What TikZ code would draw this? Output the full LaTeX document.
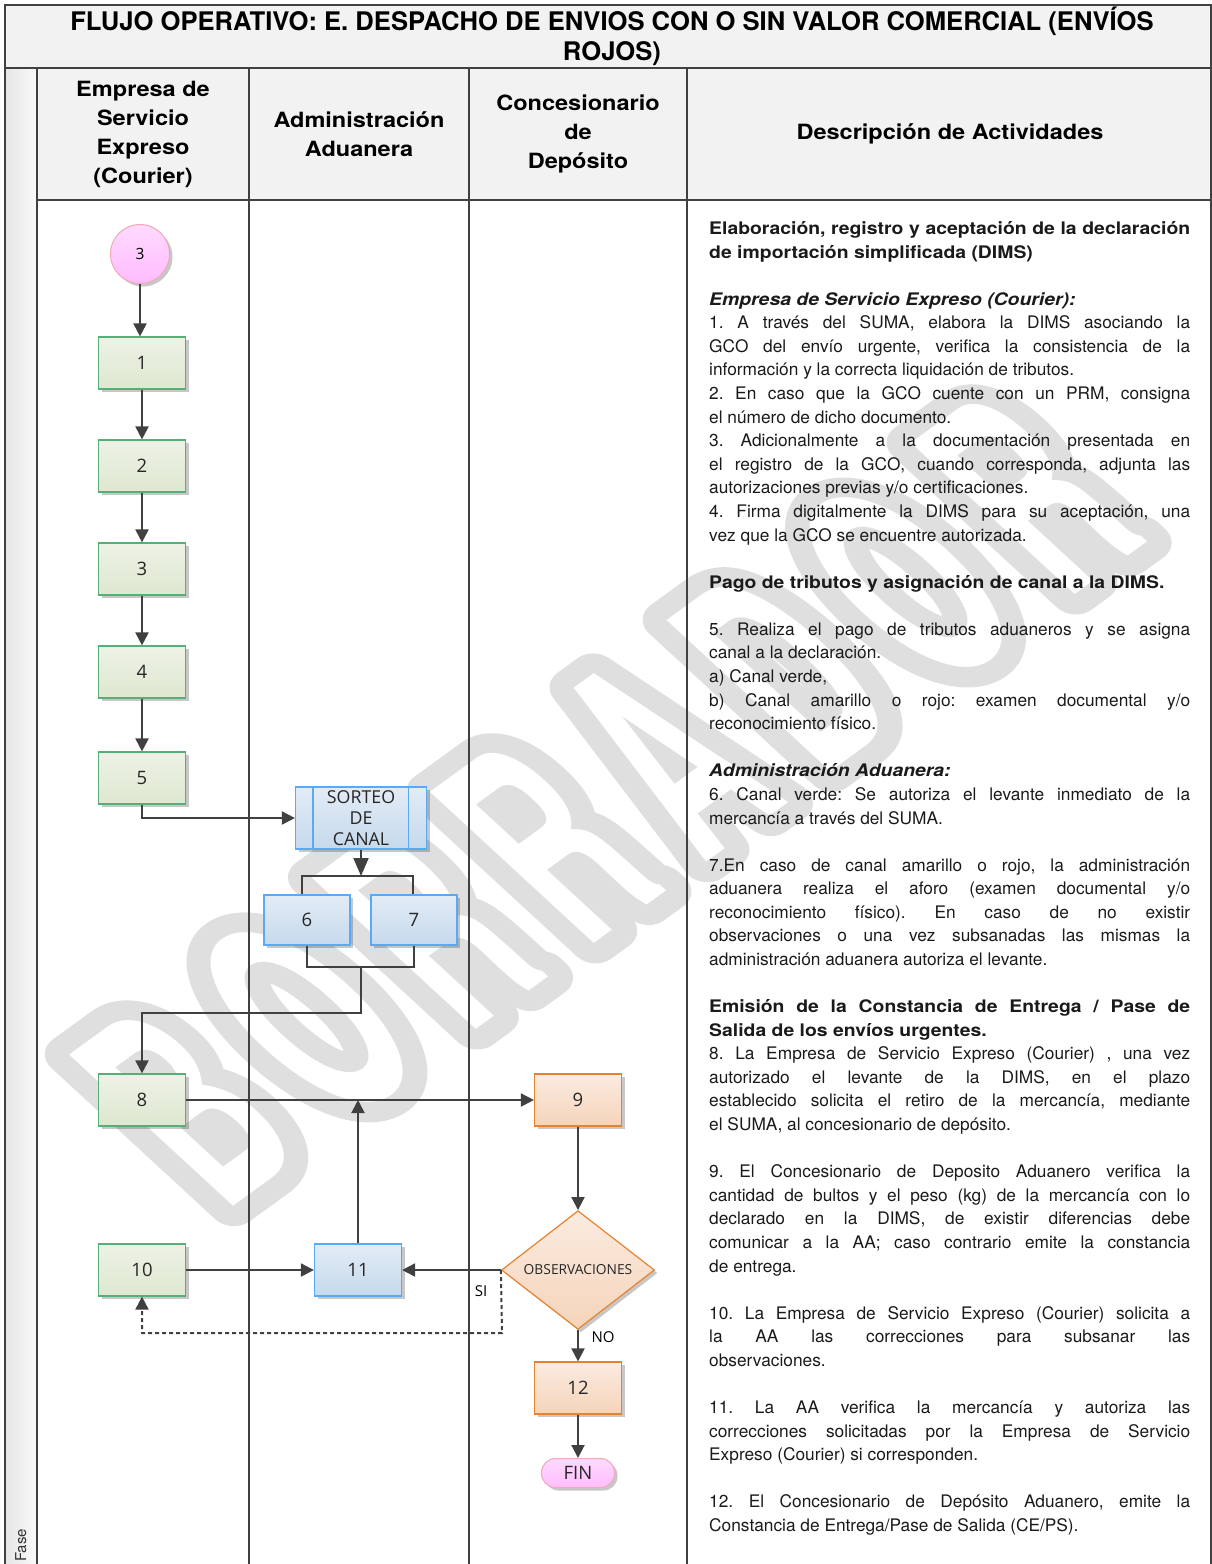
\documentclass[tikz,border=0pt]{standalone}
\usepackage{fontspec}
\setmainfont{TeX Gyre Heros}
\newfontfamily\hbw{TeX Gyre Heros}[FakeStretch=1.12]
\newfontfamily\wmfont{TeX Gyre Heros}[FakeStretch=0.5]
\newfontfamily\lblfont{Open Sans}
\usetikzlibrary{shapes.geometric,arrows.meta,shadows}
\frenchspacing

\definecolor{ln}{HTML}{404040}
\definecolor{gB}{HTML}{55AF76}
\definecolor{gT}{HTML}{EEF2E6}
\definecolor{gBt}{HTML}{DEE7D0}
\definecolor{bB}{HTML}{5AA9F4}
\definecolor{bT}{HTML}{E2ECF6}
\definecolor{bBt}{HTML}{C6D9EC}
\definecolor{oB}{HTML}{E5832F}
\definecolor{oT}{HTML}{FBEBE0}
\definecolor{oBt}{HTML}{F5D4BA}
\definecolor{pB}{HTML}{F2A9B5}
\definecolor{pT}{HTML}{FFDAFF}
\definecolor{pBt}{HTML}{FFBCFF}
\definecolor{hd}{HTML}{F2F2F2}
\definecolor{txt}{HTML}{1A1A1A}

\newcommand\dline[3]{\node[desc] (d#1) at (709,234.5+#1*23.58) {\makebox[481pt][#2]{#3}};}
\newcommand\wmgap{\hspace{38pt}}
\newcommand\wmword{B\wmgap O\wmgap R\wmgap R\wmgap A\wmgap D\wmgap O\wmgap R}

\begin{document}
\begin{tikzpicture}[x=1pt,y=-1pt,
  frame/.style={draw=ln,line width=2pt},
  shad/.style={drop shadow={shadow xshift=3pt,shadow yshift=-3pt,opacity=0.22,fill=black}},
  box/.style={rectangle,minimum width=87pt,minimum height=52pt,inner sep=0pt,
    line width=1.2pt,shad,font=\lblfont\fontsize{18.5}{22}\selectfont,text=black!85},
  gbox/.style={box,draw=gB,top color=gT,bottom color=gBt},
  bbox/.style={box,draw=bB,top color=bT,bottom color=bBt},
  obox/.style={box,draw=oB,top color=oT,bottom color=oBt},
  conn/.style={draw=ln,line width=2pt,-{Triangle[length=13pt,width=13pt]}},
  bigconn/.style={draw=ln,line width=2pt,-{Triangle[length=18pt,width=15pt]}},
  plain/.style={draw=ln,line width=2pt},
  dconn/.style={conn,dash pattern=on 4pt off 3pt},
  hdr/.style={font=\hbw\bfseries\fontsize{21}{29}\selectfont,align=center,inner sep=0pt,text=black},
  desc/.style={anchor=base west,inner sep=0pt,font=\fontsize{17.3}{23.58}\selectfont,text=txt},
  lbl/.style={font=\lblfont\fontsize{15}{18}\selectfont,text=black,inner sep=0pt}
]
\useasboundingbox (0,0) rectangle (1212,1564);

% backgrounds
\fill[hd] (5,5) rectangle (1211,68);
\fill[hd] (37,68) rectangle (1211,200);

% watermark (outlined letters)
\node[rotate=36,xslant=-0.2,inner sep=0pt] (wm) at (606,800)
  {\wmfont\bfseries\fontsize{300}{300}\selectfont\rlap{\special{pdf:literal direct 1 Tr 44 w 1 j 0.875 G}\wmword\special{pdf:literal direct 0 Tr}}\textcolor{white}{\wmword}};

\shade[left color=black!10,right color=black!2] (5,68) rectangle (37,1564);

% frame and lanes
\draw[frame] (5,1564) -- (5,5) -- (1211,5) -- (1211,1564);
\draw[frame] (5,68) -- (1211,68);
\draw[frame] (37,200) -- (1211,200);
\foreach \x in {37,249,469,687} \draw[frame] (\x,68) -- (\x,1564);

% title and headers
\node[font=\bfseries\fontsize{25.6}{30}\selectfont,align=center,inner sep=0pt] (title) at (612,36)
  {FLUJO OPERATIVO: E. DESPACHO DE ENVIOS CON O SIN VALOR COMERCIAL (ENVÍOS\\ROJOS)};
\node[hdr] (h1) at (143,134) {Empresa de\\Servicio\\Expreso\\(Courier)};
\node[hdr] (h2) at (359,134) {Administración\\Aduanera};
\node[hdr] (h3) at (578,134) {Concesionario\\de\\Depósito};
\node[hdr] (h4) at (950,134) {Descripción de Actividades};
\node[rotate=90,anchor=base west,inner sep=0pt,font=\fontsize{15}{15}\selectfont,text=black!80] (fase) at (26,1562) {Fase};

% flow nodes
\node[circle,minimum size=59pt,inner sep=0pt,draw=pB,line width=1pt,top color=pT,bottom color=pBt,shad,
      font=\lblfont\fontsize{15.5}{18}\selectfont] (c3) at (140,254) {3};
\node[gbox] (b1) at (142,363) {1};
\node[gbox] (b2) at (142,466) {2};
\node[gbox] (b3) at (142,569) {3};
\node[gbox] (b4) at (142,672) {4};
\node[gbox] (b5) at (142,778) {5};
\node[bbox,minimum width=131pt,minimum height=62pt,align=center,
      font=\lblfont\fontsize{17.8}{21}\selectfont] (sorteo) at (361,818) {SORTEO\\DE\\CANAL};
\draw[draw=bB,line width=1.2pt] ([xshift=18pt]sorteo.north west) -- ([xshift=18pt]sorteo.south west);
\draw[draw=bB,line width=1.2pt] ([xshift=-19pt]sorteo.north east) -- ([xshift=-19pt]sorteo.south east);
\node[bbox,minimum width=86pt,minimum height=50pt] (b6) at (307,920) {6};
\node[bbox,minimum width=86pt,minimum height=50pt] (b7) at (414,920) {7};
\node[gbox] (b8) at (142,1100) {8};
\node[obox] (b9) at (578,1100) {9};
\node[gbox] (b10) at (142,1270) {10};
\node[bbox] (b11) at (358,1270) {11};
\node[diamond,minimum width=153pt,minimum height=91pt,inner sep=0pt,draw=oB,line width=1.2pt,
      top color=oT,bottom color=oBt,shad,font=\lblfont\fontsize{13.8}{16}\selectfont,text=black!85] (dia) at (578,1270) {OBSERVACIONES};
\node[obox] (b12) at (578,1388) {12};
\node[rectangle,rounded corners=14pt,minimum width=73pt,minimum height=29pt,inner sep=0pt,draw=pB,line width=1pt,
      top color=pT,bottom color=pBt,shad,font=\lblfont\fontsize{18.5}{22}\selectfont,text=black!85] (fin) at (578,1473) {FIN};

% helper coordinates
\coordinate (sp) at (361,876);
\coordinate (s6) at (302,876);
\coordinate (s7) at (413,876);
\coordinate (j7) at (414,967);
\coordinate (jm) at (361,967);
\coordinate (jd) at (361,1013);
\coordinate (dl) at (502,1333);

% connectors
\draw[conn] (c3.south) -- (c3.south |- b1.north);
\draw[conn] (b1) -- (b2);
\draw[conn] (b2) -- (b3);
\draw[conn] (b3) -- (b4);
\draw[conn] (b4) -- (b5);
\draw[conn] (b5.south) |- (sorteo.west);
\draw[bigconn] (sorteo.south) -- (sp);
\draw[plain] (s6 |- b6.north) -- (s6) -- (s7) -- (s7 |- b7.north);
\draw[plain] (b6.south) |- (j7) -- (b7.south);
\draw[conn] (jm) -- (jd) -| (b8.north);
\draw[conn] (b8) -- (b9);
\draw[conn] (b11.north) -- (b11.north |- b8.east);
\draw[conn] (b9) -- (dia);
\draw[conn] (dia.west) -- (b11.east);
\draw[conn] (b10) -- (b11);
\draw[dconn] (dia.west) -- (dl) -| (b10.south);
\draw[conn] (dia) -- (b12);
\draw[conn] (b12) -- (fin);
\node[lbl] (si) at (481,1291) {SI};
\node[lbl] (no) at (603,1337) {NO};

% description text
\dline{0}{s}{\hbw\bfseries Elaboración, registro y aceptación de la declaración}
\dline{1}{l}{\hbw\bfseries de importación simplificada (DIMS)}
\dline{3}{l}{\hbw\bfseries\itshape Empresa de Servicio Expreso (Courier):}
\dline{4}{s}{1. A través del SUMA, elabora la DIMS asociando la}
\dline{5}{s}{GCO del envío urgente, verifica la consistencia de la}
\dline{6}{l}{información y la correcta liquidación de tributos.}
\dline{7}{s}{2. En caso que la GCO cuente con un PRM, consigna}
\dline{8}{l}{el número de dicho documento.}
\dline{9}{s}{3. Adicionalmente a la documentación presentada en}
\dline{10}{s}{el registro de la GCO, cuando corresponda, adjunta las}
\dline{11}{l}{autorizaciones previas y/o certificaciones.}
\dline{12}{s}{4. Firma digitalmente la DIMS para su aceptación, una}
\dline{13}{l}{vez que la GCO se encuentre autorizada.}
\dline{15}{l}{\hbw\bfseries Pago de tributos y asignación de canal a la DIMS.}
\dline{17}{s}{5. Realiza el pago de tributos aduaneros y se asigna}
\dline{18}{l}{canal a la declaración.}
\dline{19}{l}{a) Canal verde,}
\dline{20}{s}{b) Canal amarillo o rojo: examen documental y/o}
\dline{21}{l}{reconocimiento físico.}
\dline{23}{l}{\hbw\bfseries\itshape Administración Aduanera:}
\dline{24}{s}{6. Canal verde: Se autoriza el levante inmediato de la}
\dline{25}{l}{mercancía a través del SUMA.}
\dline{27}{s}{7.En caso de canal amarillo o rojo, la administración}
\dline{28}{s}{aduanera realiza el aforo (examen documental y/o}
\dline{29}{s}{reconocimiento físico). En caso de no existir}
\dline{30}{s}{observaciones o una vez subsanadas las mismas la}
\dline{31}{l}{administración aduanera autoriza el levante.}
\dline{33}{s}{\hbw\bfseries Emisión de la Constancia de Entrega / Pase de}
\dline{34}{l}{\hbw\bfseries Salida de los envíos urgentes.}
\dline{35}{s}{8. La Empresa de Servicio Expreso (Courier) , una vez}
\dline{36}{s}{autorizado el levante de la DIMS, en el plazo}
\dline{37}{s}{establecido solicita el retiro de la mercancía, mediante}
\dline{38}{l}{el SUMA, al concesionario de depósito.}
\dline{40}{s}{9. El Concesionario de Deposito Aduanero verifica la}
\dline{41}{s}{cantidad de bultos y el peso (kg) de la mercancía con lo}
\dline{42}{s}{declarado en la DIMS, de existir diferencias debe}
\dline{43}{s}{comunicar a la AA; caso contrario emite la constancia}
\dline{44}{l}{de entrega.}
\dline{46}{s}{10. La Empresa de Servicio Expreso (Courier) solicita a}
\dline{47}{s}{la AA las correcciones para subsanar las}
\dline{48}{l}{observaciones.}
\dline{50}{s}{11. La AA verifica la mercancía y autoriza las}
\dline{51}{s}{correcciones solicitadas por la Empresa de Servicio}
\dline{52}{l}{Expreso (Courier) si corresponden.}
\dline{54}{s}{12. El Concesionario de Depósito Aduanero, emite la}
\dline{55}{l}{Constancia de Entrega/Pase de Salida (CE/PS).}
\end{tikzpicture}
\end{document}
